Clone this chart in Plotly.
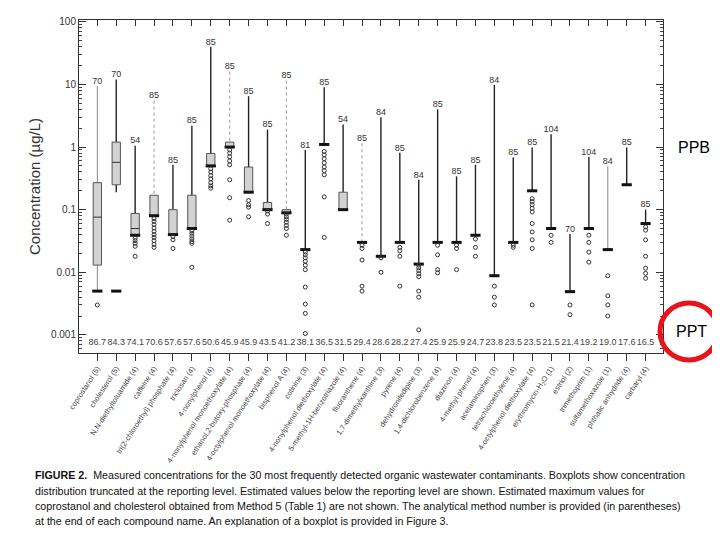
import plotly.graph_objects as go

compounds = [
    "coprostanol (5)", "cholesterol (5)", "N,N-diethyltoluamide (4)", "caffeine (4)",
    "tri(2-chloroethyl) phosphate (4)", "triclosan (4)", "4-nonylphenol (4)",
    "4-nonylphenol monoethoxylate (4)", "ethanol,2-butoxy-phosphate (4)",
    "4-octylphenol monoethoxylate (4)", "bisphenol A (4)", "cotinine (3)",
    "4-nonylphenol diethoxylate (4)", "5-methyl-1H-benzotriazole (4)", "fluoranthene (4)",
    "1,7-dimethylxanthine (3)", "pyrene (4)", "dehydronifedipine (3)",
    "1,4-dichlorobenzene (4)", "diazinon (4)", "4-methyl phenol (4)", "acetaminophen (3)",
    "tetrachloroethylene (4)", "4-octylphenol diethoxylate (4)",
    "erythromycin-H<sub>2</sub>O (1)", "estriol (2)", "trimethoprim (1)",
    "sulfamethoxazole (1)", "phthalic anhydride (4)", "carbaryl (4)",
]
freq = [86.7, 84.3, 74.1, 70.6, 57.6, 57.6, 50.6, 45.9, 45.9, 43.5, 41.2, 38.1, 36.5, 31.5, 29.4,
        28.6, 28.2, 27.4, 25.9, 25.9, 24.7, 23.8, 23.5, 23.5, 21.5, 21.4, 19.2, 19.0, 17.6, 16.5]
n_sites = [70, 70, 54, 85, 85, 85, 85, 85, 85, 85, 85, 81, 85, 54, 85,
           84, 85, 84, 85, 85, 85, 84, 85, 85, 104, 70, 104, 84, 85, 85]
whisker_max = [9.4, 12, 1.05, 5.5, 0.52, 2.2, 40, 16, 6.5, 1.9, 11.5, 0.9, 9, 2.3, 1.15,
               3.0, 0.81, 0.3, 4.0, 0.34, 0.52, 9.8, 0.68, 0.98, 1.6, 0.041, 0.7, 0.5, 0.98, 0.1]
box_q3 = [0.27, 1.2, 0.087, 0.17, 0.1, 0.17, 0.79, 1.2, 0.48, 0.13, 0.1, None, None, 0.19, None,
          None, None, None, None, None, None, None, None, None, None, None, None, None, None, None]
box_q1 = [0.013, 0.25, 0.039, 0.08, 0.04, 0.05, 0.5, 1.0, 0.19, 0.1, 0.089, None, None, 0.1, None,
          None, None, None, None, None, None, None, None, None, None, None, None, None, None, None]
box_median = [0.076, 0.57, 0.05] + [None] * 27
lower_whisker = [0.005, 0.19] + [None] * 28
report_level = [0.005, 0.005, 0.039, 0.08, 0.04, 0.05, 0.5, 1.0, 0.19, 0.1, 0.089, 0.023, 1.1, 0.1, 0.03,
                0.018, 0.03, 0.0135, 0.03, 0.03, 0.039, 0.0088, 0.03, 0.2, 0.05, 0.0049, 0.05, 0.023,
                0.25, 0.06]
estimated = [
    [0.003],
    [],
    [0.035, 0.032, 0.029, 0.026, 0.018],
    [0.072, 0.065, 0.058, 0.051, 0.045, 0.04, 0.036, 0.032, 0.028, 0.025],
    [0.037, 0.033, 0.024],
    [0.046, 0.042, 0.038, 0.034, 0.031, 0.029, 0.012],
    [0.45, 0.4, 0.35, 0.31, 0.27, 0.24, 0.22],
    [0.9, 0.8, 0.7, 0.6, 0.52, 0.3, 0.155, 0.068],
    [0.14, 0.12, 0.11, 0.077],
    [0.095, 0.085, 0.06],
    [0.085, 0.077, 0.07, 0.063, 0.056, 0.05, 0.039],
    [0.021, 0.019, 0.017, 0.015, 0.013, 0.011, 0.0058, 0.0031, 0.0022, 0.00105],
    [0.85, 0.75, 0.65, 0.56, 0.48, 0.42, 0.36, 0.16, 0.036],
    [],
    [0.027, 0.024, 0.0157, 0.006, 0.005],
    [0.017, 0.01],
    [0.025, 0.022, 0.018, 0.006],
    [0.013, 0.0118, 0.0106, 0.0095, 0.0085, 0.005, 0.004, 0.0012],
    [0.027, 0.019, 0.011, 0.0098],
    [0.027, 0.024, 0.011],
    [0.034, 0.025, 0.018],
    [0.006, 0.004, 0.003],
    [0.027, 0.025],
    [0.15, 0.135, 0.12, 0.105, 0.092, 0.06, 0.044, 0.033, 0.024, 0.003],
    [0.039, 0.03],
    [0.003, 0.0021],
    [0.039, 0.03, 0.021, 0.0145],
    [0.0088, 0.0042, 0.003, 0.002],
    [],
    [0.053, 0.047, 0.033, 0.018, 0.0116, 0.0096, 0.008],
]

caption = [
    "<b>FIGURE 2.</b>  Measured concentrations for the 30 most frequently detected organic wastewater contaminants. Boxplots show concentration",
    "distribution truncated at the reporting level. Estimated values below the reporting level are shown. Estimated maximum values for",
    "coprostanol and cholesterol obtained from Method 5 (Table 1) are not shown. The analytical method number is provided (in parentheses)",
    "at the end of each compound name. An explanation of a boxplot is provided in Figure 3.",
]

# styling
dotted = {3, 7, 10, 14}
grey = {0, 27}
cols = list(range(1, len(compounds) + 1))
BW = 0.22
RW = 0.27
INK = "#222"
OFF = 8  # page body margin in the browser

fig = go.Figure()

# whiskers
for i, c in enumerate(cols):
    top = box_q3[i] if box_q3[i] is not None else report_level[i]
    if i in dotted:
        ln = dict(color="#999", width=1, dash="dot")
    elif i in grey:
        ln = dict(color="#888", width=1)
    else:
        ln = dict(color=INK, width=1.4)
    fig.add_trace(go.Scatter(x=[c, c], y=[whisker_max[i], top], mode="lines", line=ln,
                             hoverinfo="skip", showlegend=False))
    if lower_whisker[i] is not None:
        fig.add_trace(go.Scatter(x=[c, c], y=[box_q1[i], lower_whisker[i]], mode="lines",
                                 line=ln, hoverinfo="skip", showlegend=False))

# boxes
for i, c in enumerate(cols):
    if box_q3[i] is None:
        continue
    fig.add_trace(go.Scatter(
        x=[c - BW, c + BW, c + BW, c - BW, c - BW],
        y=[box_q1[i], box_q1[i], box_q3[i], box_q3[i], box_q1[i]],
        mode="lines", fill="toself", fillcolor="#d2d2d2",
        line=dict(color="#555", width=1), hoverinfo="skip", showlegend=False))
    if box_median[i] is not None:
        fig.add_trace(go.Scatter(x=[c - BW, c + BW], y=[box_median[i]] * 2, mode="lines",
                                 line=dict(color="#333", width=1), hoverinfo="skip",
                                 showlegend=False))

# reporting levels
for i, c in enumerate(cols):
    fig.add_trace(go.Scatter(x=[c - RW, c + RW], y=[report_level[i]] * 2, mode="lines",
                             line=dict(color="#111", width=3), hoverinfo="skip",
                             showlegend=False))

# estimated values below reporting level
ex, ey = [], []
for i, c in enumerate(cols):
    ex += [c] * len(estimated[i])
    ey += estimated[i]
fig.add_trace(go.Scatter(x=ex, y=ey, mode="markers",
                         marker=dict(symbol="circle-open", size=4, color="#333",
                                     line=dict(width=1, color="#333")),
                         hoverinfo="skip", showlegend=False))

# number of samples above whiskers
fig.add_trace(go.Scatter(x=cols, y=whisker_max, mode="text", text=[str(v) for v in n_sites],
                         textposition="top center",
                         textfont=dict(family="Liberation Sans", size=9, color="#333"),
                         hoverinfo="skip", showlegend=False))

# detection frequency along bottom
fig.add_trace(go.Scatter(x=cols, y=[10 ** -3.13] * len(cols), mode="text",
                         text=[f"{v:.1f}" for v in freq],
                         textfont=dict(family="Liberation Sans", size=9, color="#444"),
                         hoverinfo="skip", showlegend=False))

# top axis tick marks
fig.add_trace(go.Scatter(x=[cols[0]], y=[1], xaxis="x2", mode="markers",
                         marker=dict(opacity=0), hoverinfo="skip", showlegend=False))

xr = [0.03, 30.92]
fig.update_layout(
    width=720, height=540,
    margin=dict(l=79 - OFF, r=57 + OFF, t=20 - OFF, b=187 + OFF),
    paper_bgcolor="white", plot_bgcolor="white",
    font=dict(family="Liberation Sans", color="#333"),
    xaxis=dict(range=xr, tickvals=cols, ticktext=compounds, tickangle=-57, automargin=False,
               ticks="outside", ticklen=7, tickcolor="#333",
               tickfont=dict(size=7.5, color="#444"),
               showline=True, linecolor="#333", linewidth=1, showgrid=False, zeroline=False),
    xaxis2=dict(range=xr, overlaying="x", side="top", tickvals=cols, showticklabels=False,
                automargin=False, ticks="inside", ticklen=6, tickcolor="#333",
                showline=True, linecolor="#333", linewidth=1, showgrid=False, zeroline=False),
    yaxis=dict(type="log", range=[-3.29, 2.03], tickvals=[0.001, 0.01, 0.1, 1, 10, 100],
               ticktext=["0.001", "0.01", "0.1", "1", "10", "100"], automargin=False,
               ticks="inside", ticklen=7, tickcolor="#333",
               minor=dict(ticks="inside", ticklen=3, dtick="D1", tickcolor="#444", showgrid=False),
               tickfont=dict(size=10, color="#333"),
               title=dict(text="Concentration (µg/L)", font=dict(size=15, color="#333"), standoff=6),
               showline=True, linecolor="#333", linewidth=1, mirror="ticks",
               showgrid=False, zeroline=False),
)

W, T, H = 584, 20, 333


def px_x(p):
    return (p - 79) / W


def px_y(p):
    return (T + H - p) / H


for k, line in enumerate(caption):
    fig.add_annotation(text=line, xref="paper", yref="paper", x=px_x(33), y=px_y([475, 491, 506, 521][k]),
                       xanchor="left", yanchor="middle", showarrow=False,
                       font=dict(family="Liberation Sans", size=10.7, color="#111"))

fig.add_annotation(text="PPB", xref="paper", yref="paper", x=px_x(694), y=px_y(147),
                   xanchor="center", yanchor="middle", showarrow=False,
                   font=dict(family="Liberation Sans", size=16, color="black"))
fig.add_annotation(text="PPT", xref="paper", yref="paper", x=px_x(691), y=px_y(331),
                   xanchor="center", yanchor="middle", showarrow=False,
                   font=dict(family="Liberation Sans", size=16, color="black"))
fig.add_shape(type="circle", xref="paper", yref="paper",
              x0=px_x(660), x1=px_x(718), y0=px_y(360), y1=px_y(303),
              line=dict(color="#e8141c", width=5))

fig.write_html("out.html")
